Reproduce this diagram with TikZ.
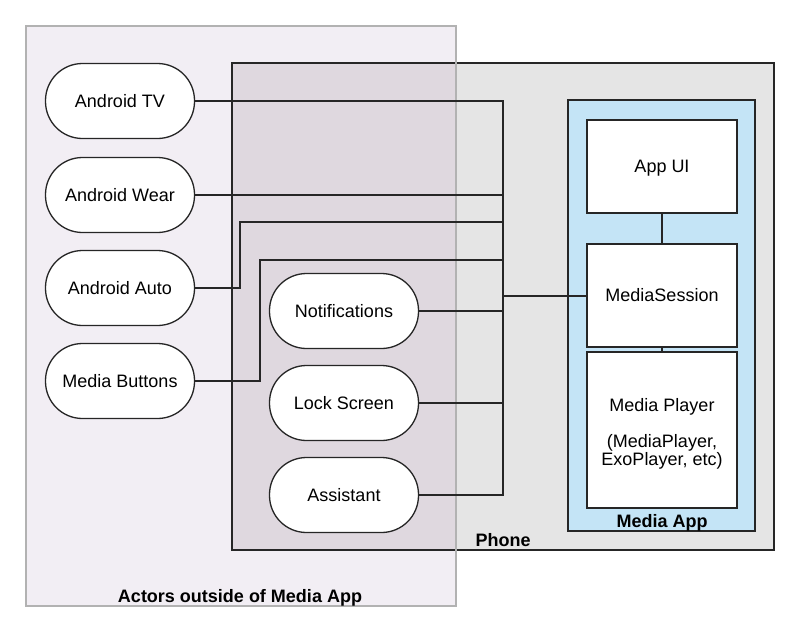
\documentclass[tikz,border=0pt]{standalone}
\usepackage{fontspec}
\setmainfont{Liberation Sans}
\begin{document}
\begin{tikzpicture}[x=1pt,y=-1pt,
  ln/.style={draw=black!85,line width=1.3pt},
  txt/.style={font=\fontsize{18}{21}\selectfont,text height=16.2pt,text depth=3.24pt},
  pill/.style={txt,draw=black!85,line width=1.3pt,fill=white,rounded corners=37pt,minimum width=149pt,minimum height=75pt,inner sep=0pt},
  sqbox/.style={txt,draw=black!85,line width=1.3pt,fill=white,minimum width=150pt,inner sep=0pt,align=center},
  lbl/.style={font=\fontsize{18}{21}\selectfont\bfseries,inner sep=0pt,text height=16.2pt,text depth=3.24pt}]
\definecolor{actfill}{HTML}{F2EEF4}
\definecolor{phonefill}{HTML}{E5E5E5}
\definecolor{overfill}{HTML}{DFD8DF}
\definecolor{appfill}{HTML}{C4E4F6}
\useasboundingbox (0,0) rectangle (800,632);
% actors background
\fill[actfill] (26,26) rectangle (456,606);
% phone
\fill[phonefill] (232,63) rectangle (774,550);
\fill[overfill] (232,63) rectangle (456,550);
\draw[draw=black!85,line width=1.3pt] (232,63) rectangle (774,550);
\draw[draw=black!30,line width=1.3pt] (26,26) rectangle (456,606);
% media app
\draw[draw=black!85,line width=1.3pt,fill=appfill] (568,100) rectangle (755,531);
\node[lbl] (actlbl) at (240,596) {Actors outside of Media App};
\node[lbl] (phonelbl) at (503,540) {Phone};
\node[lbl] (applbl) at (662,521) {Media App};
% app boxes
\node[sqbox,minimum height=93pt] (appui) at (662,166.5) {App UI};
\node[sqbox,minimum height=103pt] (session) at (662,295.5) {MediaSession};
\node[sqbox,minimum height=156pt,text height=,text depth=,font=\fontsize{18}{16}\selectfont] (player) at (662,430) {\rule{0pt}{21pt}Media Player\\[18pt](MediaPlayer,\\ExoPlayer, etc)};
\draw[ln] (appui.south) -- (session.north);
\draw[ln] (session.south) -- (player.north);
% actor pills
\node[pill] (tv) at (120,101) {Android TV};
\node[pill] (wear) at (120,195) {Android Wear};
\node[pill] (auto) at (120,288) {Android Auto};
\node[pill] (buttons) at (120,381) {Media Buttons};
\node[pill] (notif) at (344,311) {Notifications};
\node[pill] (lock) at (344,403) {Lock Screen};
\node[pill] (assist) at (344,495) {Assistant};
% bus
\coordinate (bustop) at (503,101);
\coordinate (busbot) at (503,495);
\coordinate (busmid) at (503,296);
\draw[ln] (tv.east) -- (bustop) -- (busbot) -- (assist.east);
\draw[ln] (wear.east) -- (503,195);
\draw[ln] (auto.east) -- (240,288) -- (240,222) -- (503,222);
\draw[ln] (buttons.east) -- (260,381) -- (260,260) -- (503,260);
\draw[ln] (notif.east) -- (503,311);
\draw[ln] (lock.east) -- (503,403);
\draw[ln] (busmid) -- (session.west |- busmid);
\end{tikzpicture}
\end{document}
